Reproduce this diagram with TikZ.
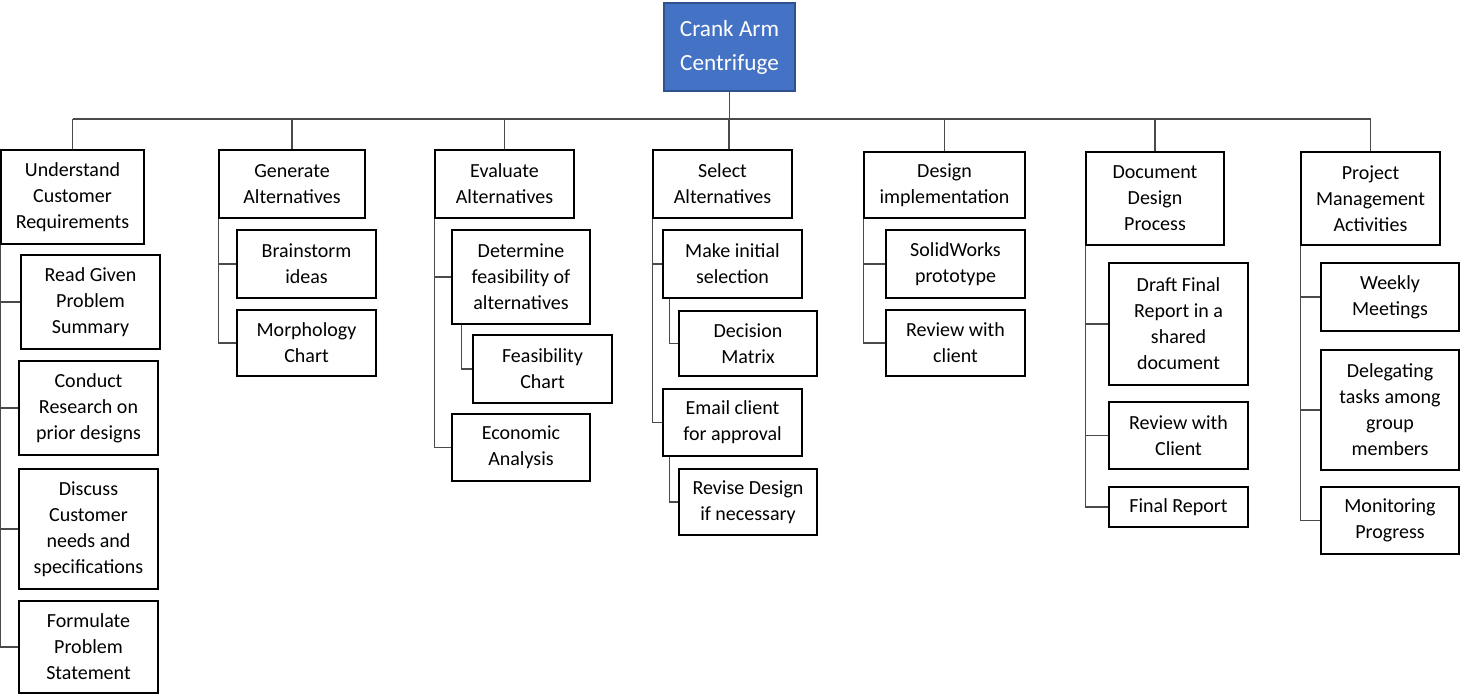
\documentclass[tikz,border=0pt]{standalone}
\usepackage{fontspec}
\setmainfont{Carlito}
\usepackage{tikz}

\definecolor{rootblue}{HTML}{4472C4}
\definecolor{rootedge}{HTML}{2F528F}
\definecolor{linkgray}{HTML}{4A4A4A}

\begin{document}
\begin{tikzpicture}[x=0.5pt, y=-0.5pt,
    task/.style={draw=black, line width=0.75pt, fill=white, align=center, inner sep=0pt,
      font=\fontsize{10}{13}\selectfont},
    top/.style={draw=rootedge, line width=0.75pt, fill=rootblue, text=white, align=center,
      inner sep=0pt, font=\fontsize{11.6}{17}\selectfont},
    boxsize/.style 2 args={minimum width=#1*0.5pt, minimum height=#2*0.5pt},
    link/.style={draw=linkgray, line width=0.75pt}]

    \useasboundingbox (0,0) rectangle (1460,694);

    % draw root
    \node[top, boxsize={131}{88}] (root) at (729.5,47) {Crank Arm\\Centrifuge};

    % draw first level
    \node[task, boxsize={143}{94}] (und) at (72.5,197) {Understand\\Customer\\Requirements};
    \node[task, boxsize={146}{68}] (gen) at (292,184) {Generate\\Alternatives};
    \node[task, boxsize={139}{68}] (eval) at (504.5,184) {Evaluate\\Alternatives};
    \node[task, boxsize={139}{68}] (sel) at (722.5,184) {Select\\Alternatives};
    \node[task, boxsize={161}{66}] (des) at (944.5,185) {Design\\implementation};
    \node[task, boxsize={138}{93}] (doc) at (1155,198.5) {Document\\Design\\Process};
    \node[task, boxsize={139}{93}] (proj) at (1370.5,198.5) {Project\\Management\\Activities};

    % draw customer requirements tasks
    \node[task, boxsize={139}{94}] (read) at (90.5,302) {Read Given\\Problem\\Summary};
    \node[task, boxsize={139}{94}] (cond) at (88.5,408) {Conduct\\Research on\\prior designs};
    \node[task, boxsize={139}{120}] (disc) at (88.5,529) {Discuss\\Customer\\needs and\\specifications};
    \node[task, boxsize={139}{92}] (form) at (88.5,647) {Formulate\\Problem\\Statement};

    % draw generate tasks
    \node[task, boxsize={139}{68}] (brain) at (306.5,264) {Brainstorm\\ideas};
    \node[task, boxsize={139}{66}] (morph) at (306.5,343) {Morphology\\Chart};

    % draw evaluate tasks
    \node[task, boxsize={138}{94}] (det) at (521,277) {Determine\\feasibility of\\alternatives};
    \node[task, boxsize={139}{68}] (feas) at (542.5,369) {Feasibility\\Chart};
    \node[task, boxsize={138}{67}] (econ) at (521,447.5) {Economic\\Analysis};

    % draw select tasks
    \node[task, boxsize={139}{68}] (make) at (732.5,264) {Make initial\\selection};
    \node[task, boxsize={138}{65}] (dec) at (748,343.5) {Decision\\Matrix};
    \node[task, boxsize={139}{67}] (email) at (732.5,422.5) {Email client\\for approval};
    \node[task, boxsize={138}{66}] (rev) at (748,502) {Revise Design\\if necessary};

    % draw design tasks
    \node[task, boxsize={139}{68}] (solid) at (955.5,264) {SolidWorks\\prototype};
    \node[task, boxsize={139}{66}] (revc) at (955.5,343) {Review with\\client};

    % draw document tasks
    \node[task, boxsize={139}{122}] (draft) at (1178.5,324) {Draft Final\\Report in a\\shared\\document};
    \node[task, boxsize={139}{67}] (revcl) at (1178.5,435.5) {Review with\\Client};
    \node[task, boxsize={139}{40}] (final) at (1178.5,507) {Final Report};

    % draw management tasks
    \node[task, boxsize={138}{68}] (weekly) at (1390,297) {Weekly\\Meetings};
    \node[task, boxsize={138}{120}] (deleg) at (1390,410) {Delegating\\tasks among\\group\\members};
    \node[task, boxsize={138}{67}] (mon) at (1390,520.5) {Monitoring\\Progress};

    % draw bus line
    \coordinate (bus) at (729,119);
    \draw[link] (root.south) -- (root.south |- bus);
    \draw[link] (und.north |- bus) -- (proj.north |- bus);
    \foreach \n in {und, gen, eval, des, doc, proj}
      \draw[link] (\n.north) -- (\n.north |- bus);
    \draw[link] ([xshift=3.25pt]sel.north) -- (bus);

    % draw spines
    \foreach \n in {read, cond, disc, form}
      \draw[link] (und.south west) |- (\n.west);
    \foreach \n in {brain, morph}
      \draw[link] (gen.south west) |- (\n.west);
    \foreach \n in {det, econ}
      \draw[link] (eval.south west) |- (\n.west);
    \draw[link] ([xshift=5pt]det.south west) |- (feas.west);
    \foreach \n in {make, email}
      \draw[link] (sel.south west) |- (\n.west);
    \draw[link] ([xshift=3.5pt]make.south west) |- (dec.west);
    \draw[link] ([xshift=3.5pt]email.south west) |- (rev.west);
    \foreach \n in {solid, revc}
      \draw[link] (des.south west) |- (\n.west);
    \foreach \n in {draft, revcl, final}
      \draw[link] (doc.south west) |- (\n.west);
    \foreach \n in {weekly, deleg, mon}
      \draw[link] (proj.south west) |- (\n.west);

\end{tikzpicture}
\end{document}
